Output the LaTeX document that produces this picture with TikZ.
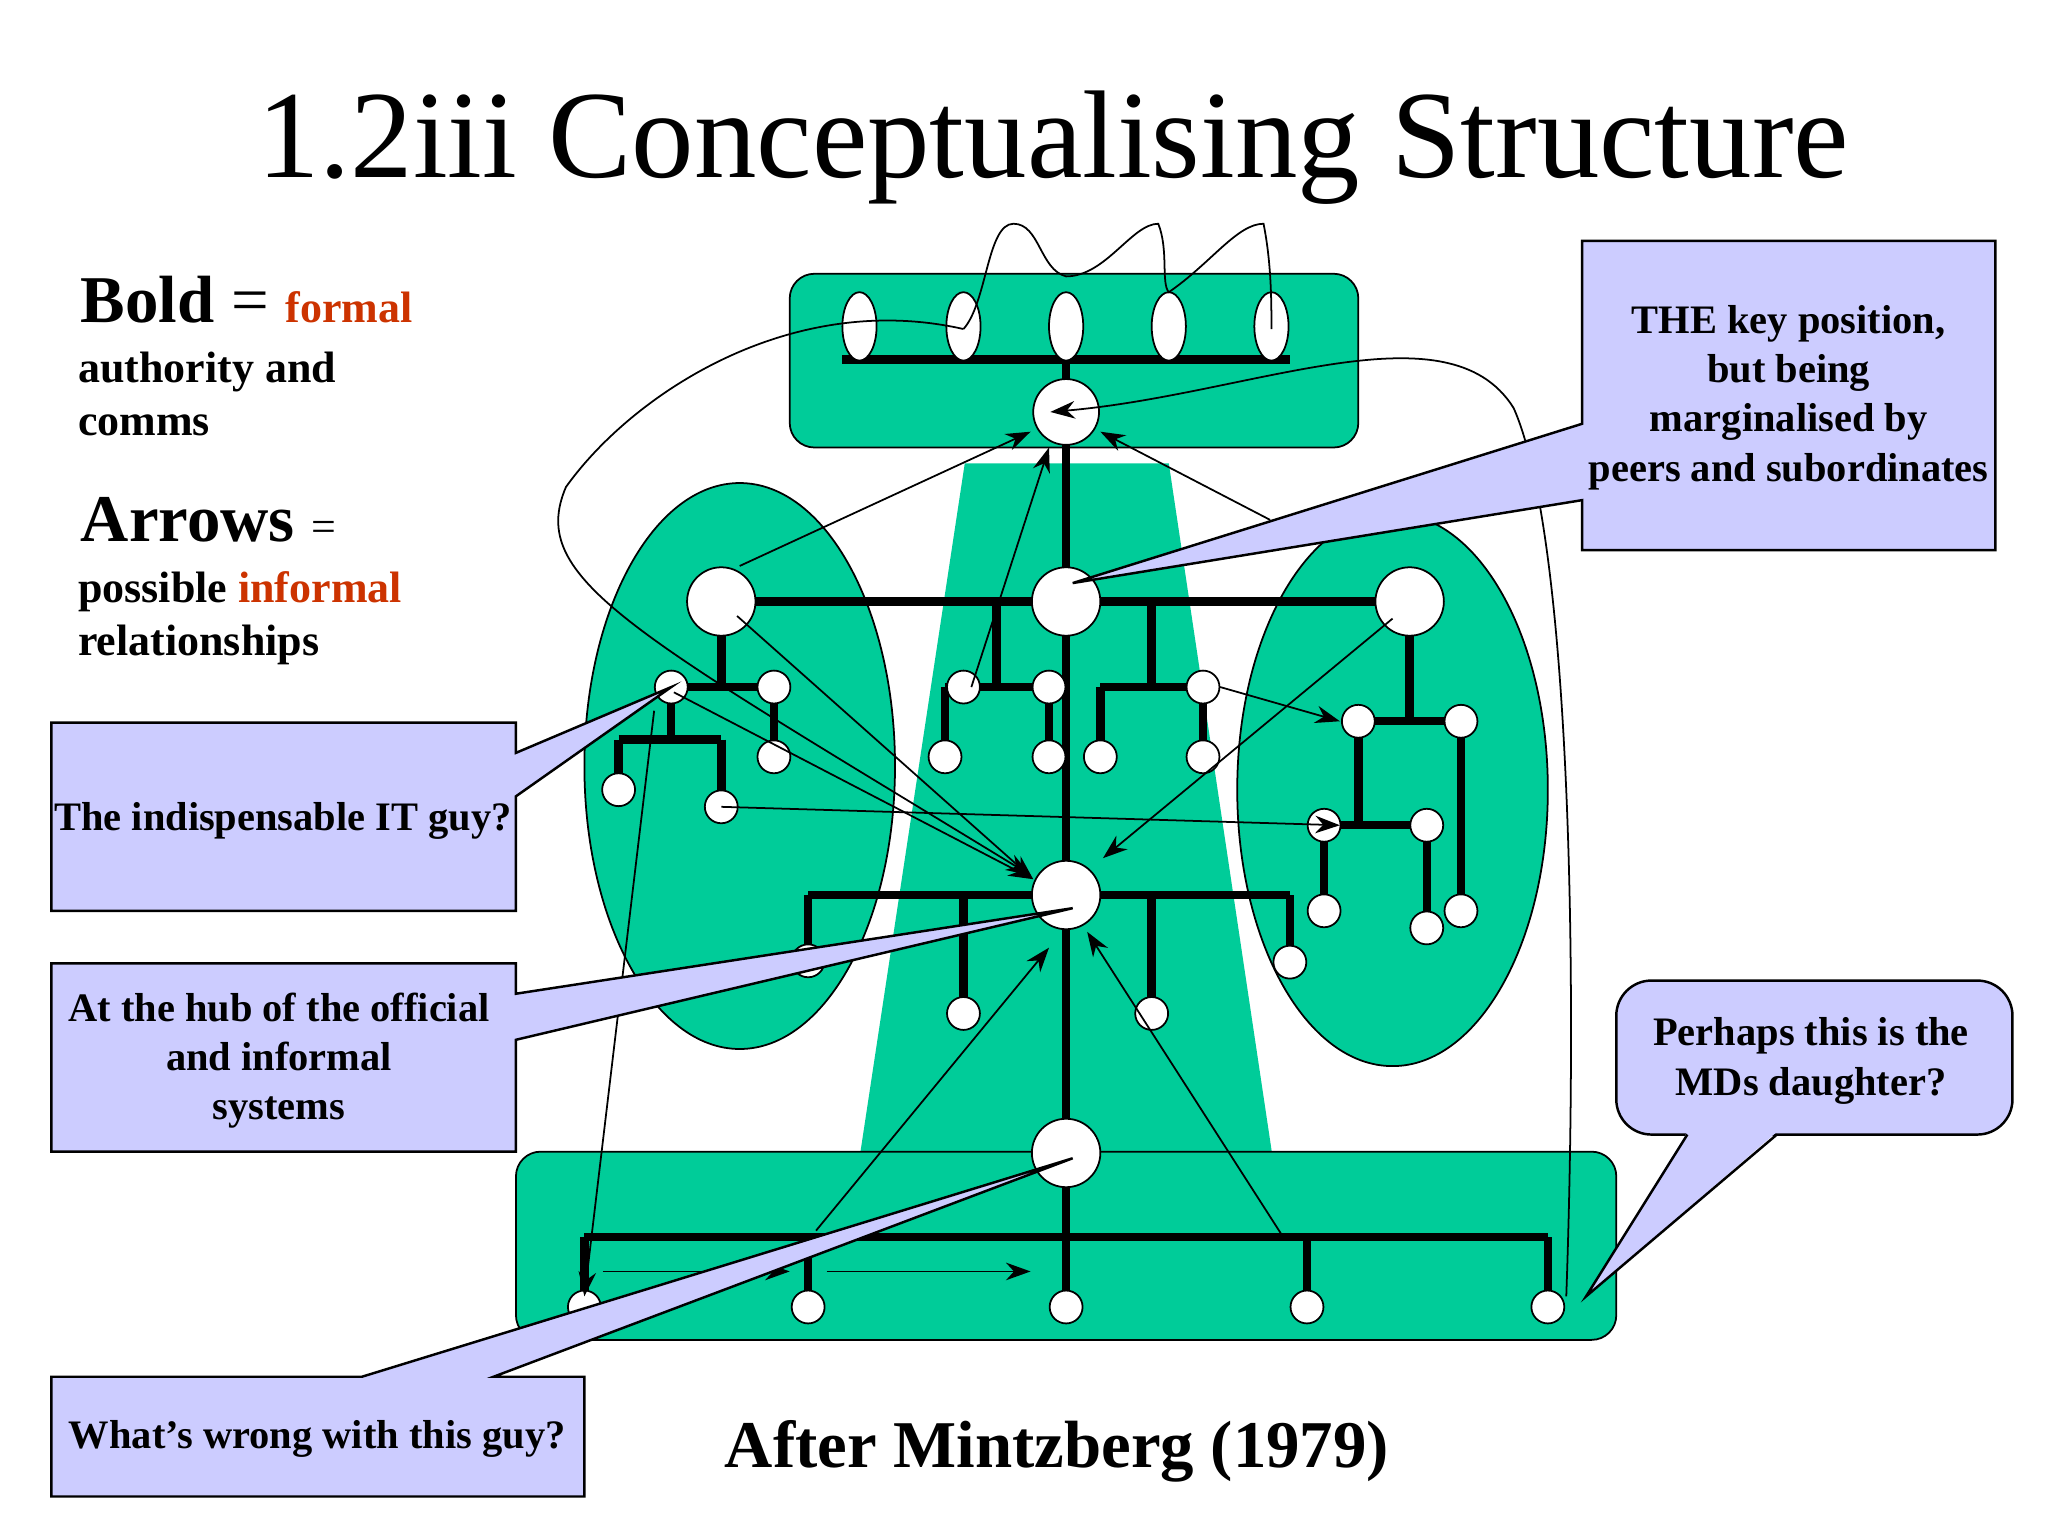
\documentclass[tikz,border=0pt]{standalone}
\usepackage{fontspec}
\setmainfont{Liberation Serif}
\usetikzlibrary{arrows.meta}
\definecolor{grn}{HTML}{00CC99}
\definecolor{lav}{HTML}{CCCCFF}
\definecolor{org}{HTML}{CC3300}
\begin{document}
\begin{tikzpicture}[x=0.01316cm,y=-0.01316cm,
  org/.style={line width=2.4pt},
  thin/.style={line width=0.5pt},
  arr/.style={line width=0.5pt,-{Stealth[length=7pt,width=5pt]}},
  call/.style={fill=lav,draw=black,line width=0.7pt},
  ctext/.style={font=\bfseries\fontsize{11.5}{14}\selectfont,align=center}]
\useasboundingbox (0,0) rectangle (1556,1167);
\node[font=\fontsize{35.5}{40}\selectfont] (title) at (800,112) {1.2iii Conceptualising Structure};
% green shapes
\fill[grn] (733,352)--(888,352)--(967,880)--(653,880)--cycle;
\filldraw[fill=grn,draw=black,thin] (562,582) ellipse [x radius=118,y radius=215];
\filldraw[fill=grn,draw=black,thin] (1058,600) ellipse [x radius=118,y radius=210];
\filldraw[fill=grn,draw=black,thin,rounded corners=7pt] (600,208) rectangle (1032,340);
\filldraw[fill=grn,draw=black,thin,rounded corners=7pt] (392,875) rectangle (1228,1018);
% formal lines
\draw[org] (640,273)--(980,273);
\draw[org] (810,273)--(810,993);
\draw[org] (548,457)--(1071,457);
\draw[org] (548,457)--(548,522) (510,522)--(588,522) (588,522)--(588,575) (510,522)--(510,562) (470,562)--(548,562) (470,562)--(470,600) (548,562)--(548,613);
\draw[org] (757,457)--(757,522) (718,522)--(797,522) (718,522)--(718,575) (797,522)--(797,575);
\draw[org] (875,457)--(875,522) (836,522)--(914,522) (836,522)--(836,575) (914,522)--(914,575);
\draw[org] (1071,457)--(1071,548) (1032,548)--(1110,548) (1032,548)--(1032,627) (1006,627)--(1084,627) (1006,627)--(1006,692) (1084,627)--(1084,705) (1110,548)--(1110,692);
\draw[org] (614,680)--(980,680) (614,680)--(614,730) (732,680)--(732,770) (875,680)--(875,770) (980,680)--(980,731);
\draw[org] (444,940)--(1176,940) (444,940)--(444,993) (614,940)--(614,993) (993,940)--(993,993) (1176,940)--(1176,993);
% positions
\foreach \x/\n in {653/a,732/b,810/c,888/d,966/e}
  \draw[fill=white,thin] (\x,248) ellipse [x radius=13,y radius=26];
\foreach \p/\r in {{(810,313)}/25,{(548,457)}/26,{(810,457)}/26,{(1071,457)}/26,{(810,680)}/26,{(810,876)}/26}
  \draw[fill=white,thin] \p circle[radius=\r];
\foreach \p in {{(510,522)},{(588,522)},{(588,575)},{(470,600)},{(548,613)},{(732,522)},{(797,522)},{(718,575)},{(797,575)},{(914,522)},{(836,575)},{(914,575)},{(1032,548)},{(1110,548)},{(1006,627)},{(1084,627)},{(1006,692)},{(1084,705)},{(1110,692)},{(614,730)},{(732,770)},{(875,770)},{(980,731)},{(444,993)},{(614,993)},{(810,993)},{(993,993)},{(1176,993)}}
  \draw[fill=white,thin] \p circle[radius=12.5];
% informal
\draw[arr] (562,430)--(783,328);
\draw[arr] (965,395)--(836,328);
\draw[arr] (738,522)--(797,340);
\draw[arr] (560,468)--(785,668);
\draw[arr] (512,526)--(785,668);
\draw[arr] (1058,470)--(838,652);
\draw[arr] (548,613)--(1018,627);
\draw[arr] (927,522)--(1018,548);
\draw[arr] (620,935)--(797,720);
\draw[arr] (975,940)--(826,708);
\draw[arr] (458,966)--(600,966);
\draw[arr] (628,966)--(783,966);
\draw[arr] (497,540)--(444,985);
\draw[thin] (732,250) .. controls (750,230) and (750,170) .. (770,170) .. controls (790,170) and (790,205) .. (810,210) .. controls (840,210) and (860,170) .. (880,170) .. controls (888,190) and (882,215) .. (888,222) .. controls (920,200) and (940,170) .. (960,170) .. controls (966,200) and (966,230) .. (966,250);
\draw[arr] (732,250) .. controls (600,220) and (480,300) .. (430,370) .. controls (400,440) and (480,480) .. (783,665);
\draw[arr] (1190,985) .. controls (1200,700) and (1190,400) .. (1150,310) .. controls (1100,230) and (950,300) .. (798,313);
% callouts
\draw[call] (1202,183)--(1516,183)--(1516,418)--(1202,418)--(1202,380)--(815,443)--(1202,322)--cycle;
\node[ctext] (t1) at (1359,302) {THE key position,\\but being\\marginalised by\\peers and subordinates};
\draw[call] (39,549)--(392,549)--(392,572)--(510,522)--(392,605)--(392,692)--(39,692)--cycle;
\node[ctext] (t2) at (215,624) {The indispensable IT guy?};
\draw[call] (39,732)--(392,732)--(392,755)--(815,690)--(392,790)--(392,875)--(39,875)--cycle;
\node[ctext] (t3) at (212,806) {At the hub of the official\\and informal\\systems};
\draw[call] (39,1046)--(275,1046)--(815,880)--(375,1046)--(444,1046)--(444,1137)--(39,1137)--cycle;
\node[ctext] (t4) at (241,1093) {What’s wrong with this guy?};
\draw[call,rounded corners=10pt] (1228,745) rectangle (1529,862);
\fill[lav] (1282,860)--(1205,985)--(1350,860)--cycle;
\draw[line width=0.7pt] (1282,862)--(1205,985)--(1350,862);
\node[ctext] (t5) at (1376,806) {Perhaps this is the\\MDs daughter?};
% legend
\node[anchor=west,font=\bfseries\fontsize{19}{22}\selectfont] (b) at (52,228) {Bold \textmd{=} \textcolor{org}{\fontsize{12.5}{14}\selectfont formal}};
\node[anchor=north west,align=left,font=\bfseries\fontsize{12.5}{15}\selectfont] (b2) at (50,258) {authority and\\comms};
\node[anchor=west,font=\bfseries\fontsize{19}{22}\selectfont] (ar) at (52,395) {Arrows \textmd{\fontsize{12.5}{14}\selectfont =}};
\node[anchor=north west,align=left,font=\bfseries\fontsize{12.5}{15}\selectfont] (ar2) at (50,425) {possible \textcolor{org}{informal}\\relationships};
\node[font=\bfseries\fontsize{19}{22}\selectfont] (mz) at (803,1103) {After Mintzberg (1979)};
\end{tikzpicture}
\end{document}
